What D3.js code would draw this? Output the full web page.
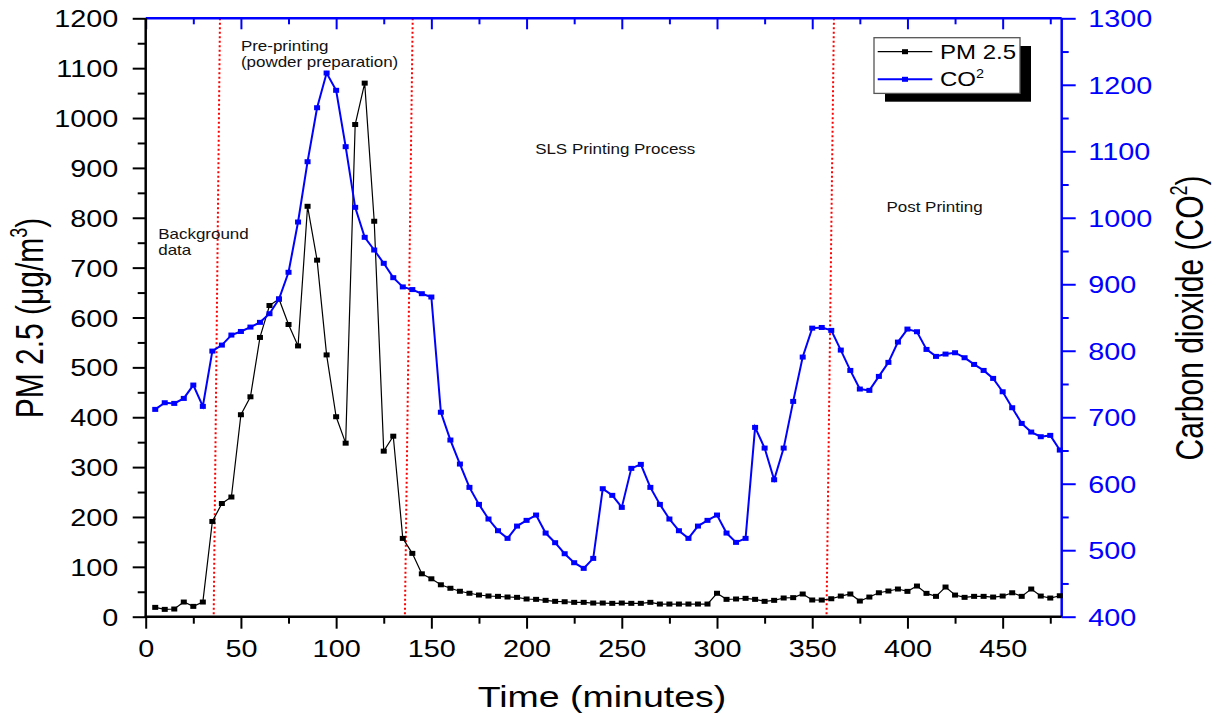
<!DOCTYPE html>
<html><head><meta charset="utf-8">
<script src="https://cdn.jsdelivr.net/npm/d3@7"></script>
<style>body{margin:0;background:#fff}svg{display:block}text{font-family:"Liberation Sans",Arial,sans-serif}</style>
</head><body>
<svg id="chart" width="1215" height="714"></svg>
<script>
const minutes = [5,10,15,20,25,30,35,40,45,50,55,60,65,70,75,80,85,90,95,100,105,110,115,120,125,130,135,140,145,150,155,160,165,170,175,180,185,190,195,200,205,210,215,220,225,230,235,240,245,250,255,260,265,270,275,280,285,290,295,300,305,310,315,320,325,330,335,340,345,350,355,360,365,370,375,380,385,390,395,400,405,410,415,420,425,430,435,440,445,450,455,460,465,470,475,480];
const pm25 = [18.7,14.7,15.4,29.4,20.7,29.4,191,227,240,405,441,560,624,637,586,543,823,715,525,401,348,987,1070,793,332,362,157,127,86,76,64,57,51,47,43.5,41.5,40.8,39.5,38.8,35.5,34.8,32.8,30.8,30,28.8,28.8,27.4,27.4,26.8,27.4,26.8,26.8,28.8,25.4,25.4,25.4,25.4,25.4,25.4,47,34.8,35.5,36.8,34.8,30.8,32.8,37.5,38.2,45.5,33.5,33.4,36,41.4,45.5,31.4,39.4,48,51.5,55.5,50.8,61.5,46.8,40.8,59.5,43.4,38.8,40.8,40.8,39.4,41.4,48,40.8,55.5,41.4,37.4,42];
const co2 = [711.8,721.8,720.8,728.3,748.4,716.3,799.5,808.5,823.6,829,835.6,842.7,855.7,877.8,918,993.6,1084.3,1165.5,1217.7,1191.7,1106.9,1015.7,970.6,951.5,931.5,909.9,896,892,885.8,880.8,707.5,665.7,629.6,594.5,568.9,546.9,529.3,517.8,536.3,544.9,552.9,525.8,511.3,494.7,481.2,472.7,487.7,592.5,582.5,564.4,623.1,629.1,594.5,568.9,546.9,529.3,517.8,536.3,544.9,552.9,525.8,511.8,517.8,684.7,653.6,606,653.6,723.8,790.5,834,835,830.6,801,770.4,742.4,740.4,761.4,782.5,813,832.6,828.6,802,791.5,795,797,789.5,779.4,770.4,758.4,738.3,714.3,690.7,677.7,670.7,672.7,650.6];
const xMajorTicks = [0,50,100,150,200,250,300,350,400,450];
const xMinorTicks = [25,75,125,175,225,275,325,375,425,475];
const yLeftMajor = [0,100,200,300,400,500,600,700,800,900,1000,1100,1200];
const yLeftMinor = [50,150,250,350,450,550,650,750,850,950,1050,1150];
const yRightMajor = [400,500,600,700,800,900,1000,1100,1200,1300];
const yRightMinor = [450,550,650,750,850,950,1050,1150,1250];
const phaseTop = [39, 140.2, 361.4];
const phaseBottom = [35.7, 136.1, 357.5];
const phaseLabels = [
  {lines:["Background","data"], x:6.6, y:[757,725]},
  {lines:["Pre-printing","(powder preparation)"], x:50, y:[1135,1103]},
  {lines:["SLS Printing Process"], x:204.5, y:[928]},
  {lines:["Post Printing"], x:389, y:[811]}
];

const svg = d3.select("#chart");
const L = 145.7, R = 1061.7, T = 18.3, B = 616.7;
const x = d3.scaleLinear().domain([0,481]).range([L,R]);
const yL = d3.scaleLinear().domain([0,1200]).range([B,T]);
const yR = d3.scaleLinear().domain([400,1300]).range([B,T]);
const blue = "#0000ff";
const SX = 1.2;
const fmt = d3.format("d");

function styleAxis(g, color){
  g.select(".domain").remove();
  g.selectAll("line").attr("stroke", color).attr("stroke-width", 2);
}

// red phase lines
svg.append("g").selectAll("line").data(phaseTop).join("line")
  .attr("x1", d=>x(d)).attr("y1", T)
  .attr("x2", (d,i)=>x(phaseBottom[i])).attr("y2", B)
  .attr("stroke", "#ff0000").attr("stroke-width", 2).attr("stroke-dasharray", "2,2.5");

// phase labels (positioned on left scale values)
phaseLabels.forEach(p=>{
  p.lines.forEach((t,i)=>{
    svg.append("text").attr("transform", `translate(${x(p.x)},${yL(p.y[i])}) scale(1.17,1)`)
      .attr("font-size", 14.5).attr("fill", "#111").text(t);
  });
});

// axes: bottom
const gB = svg.append("g").attr("transform", `translate(0,${B})`)
  .call(d3.axisBottom(x).tickValues(xMajorTicks).tickSize(12).tickSizeOuter(0).tickFormat(fmt));
styleAxis(gB, "#000");
gB.selectAll("text").attr("y", null).attr("dy", null)
  .attr("transform", `translate(0,40) scale(${SX},1)`).attr("font-size", 24).attr("fill", "#000")
  .style("font-family", '"Liberation Sans",Arial,sans-serif');
const gBm = svg.append("g").attr("transform", `translate(0,${B})`)
  .call(d3.axisBottom(x).tickValues(xMinorTicks).tickSize(7).tickFormat(()=>""));
styleAxis(gBm, "#000");

// top (blue, inward ticks)
const gT = svg.append("g").attr("transform", `translate(0,${T})`)
  .call(d3.axisBottom(x).tickValues(xMajorTicks).tickSize(11).tickFormat(()=>""));
styleAxis(gT, blue);
const gTm = svg.append("g").attr("transform", `translate(0,${T})`)
  .call(d3.axisBottom(x).tickValues(xMinorTicks).tickSize(6).tickFormat(()=>""));
styleAxis(gTm, blue);

// left
const gL = svg.append("g").attr("transform", `translate(${L},0)`)
  .call(d3.axisLeft(yL).tickValues(yLeftMajor).tickSize(13).tickSizeOuter(0).tickFormat(fmt));
styleAxis(gL, "#000");
gL.selectAll("text").attr("x", null).attr("dy", null)
  .attr("transform", `translate(-27.4,8.6) scale(${SX},1)`).attr("font-size", 24).attr("fill", "#000")
  .style("font-family", '"Liberation Sans",Arial,sans-serif');
const gLm = svg.append("g").attr("transform", `translate(${L},0)`)
  .call(d3.axisLeft(yL).tickValues(yLeftMinor).tickSize(8).tickFormat(()=>""));
styleAxis(gLm, "#000");

// right
const gR = svg.append("g").attr("transform", `translate(${R},0)`)
  .call(d3.axisRight(yR).tickValues(yRightMajor).tickSize(14).tickSizeOuter(0).tickFormat(fmt));
styleAxis(gR, blue);
gR.selectAll("text").attr("x", null).attr("dy", null)
  .attr("transform", `translate(26.6,8.6) scale(${SX},1)`).attr("font-size", 24).attr("fill", blue)
  .style("font-family", '"Liberation Sans",Arial,sans-serif');
const gRm = svg.append("g").attr("transform", `translate(${R},0)`)
  .call(d3.axisRight(yR).tickValues(yRightMinor).tickSize(7).tickFormat(()=>""));
styleAxis(gRm, blue);

// frame lines
svg.append("line").attr("x1", L).attr("x2", R).attr("y1", T).attr("y2", T).attr("stroke", blue).attr("stroke-width", 2.5);
svg.append("line").attr("x1", R).attr("x2", R).attr("y1", T).attr("y2", B).attr("stroke", blue).attr("stroke-width", 2.5);
svg.append("line").attr("x1", L).attr("x2", L).attr("y1", T).attr("y2", B+1).attr("stroke", "#000").attr("stroke-width", 2.5);
svg.append("line").attr("x1", L-1).attr("x2", R).attr("y1", B).attr("y2", B).attr("stroke", "#000").attr("stroke-width", 2.5);

// PM 2.5 series
const pmData = minutes.map((m,i)=>({m, v:pm25[i]}));
const coData = minutes.map((m,i)=>({m, v:co2[i]}));
svg.append("path").datum(pmData)
  .attr("d", d3.line().x(d=>x(d.m)).y(d=>yL(d.v)))
  .attr("fill", "none").attr("stroke", "#000").attr("stroke-width", 1.2);
svg.append("g").selectAll("rect").data(pmData).join("rect")
  .attr("x", d=>x(d.m)-3).attr("y", d=>yL(d.v)-2.5).attr("width", 6).attr("height", 5).attr("fill", "#000");

// CO2 series
svg.append("path").datum(coData)
  .attr("d", d3.line().x(d=>x(d.m)).y(d=>yR(d.v)))
  .attr("fill", "none").attr("stroke", blue).attr("stroke-width", 2);
svg.append("g").selectAll("rect").data(coData).join("rect")
  .attr("x", d=>x(d.m)-3).attr("y", d=>yR(d.v)-2.5).attr("width", 6).attr("height", 5).attr("fill", blue);

// axis titles
svg.append("text").attr("transform", `translate(602,706.7) scale(1.25,1)`)
  .attr("text-anchor", "middle").attr("font-size", 30).attr("fill", "#000").text("Time (minutes)");

const lt = svg.append("text").attr("transform", `translate(43,318) scale(1.3,1) rotate(-90)`)
  .attr("text-anchor", "middle").attr("font-size", 30).attr("fill", "#000");
lt.append("tspan").text("PM 2.5 (μg/m");
lt.append("tspan").attr("font-size", 18).attr("dy", -12).text("3");
lt.append("tspan").attr("dy", 12).text(")");

const rt = svg.append("text").attr("transform", `translate(1203,318) scale(1.3,1) rotate(-90)`)
  .attr("text-anchor", "middle").attr("font-size", 30).attr("fill", "#000");
rt.append("tspan").text("Carbon dioxide (CO");
rt.append("tspan").attr("font-size", 18).attr("dy", -12).text("2");
rt.append("tspan").attr("dy", 12).text(")");

// legend
const lg = svg.append("g");
lg.append("rect").attr("x", 885).attr("y", 46).attr("width", 146).attr("height", 55.7).attr("fill", "#000");
lg.append("rect").attr("x", 874).attr("y", 37.7).attr("width", 146).attr("height", 55.7)
  .attr("fill", "#fff").attr("stroke", "#555").attr("stroke-width", 1.3);
const legItems = [{name:"PM 2.5", color:"#000", y:51.7, w:1.2},{name:"CO", sup:"2", color:blue, y:79.3, w:2}];
legItems.forEach(it=>{
  lg.append("line").attr("x1", 877.7).attr("x2", 932.3).attr("y1", it.y).attr("y2", it.y)
    .attr("stroke", it.color).attr("stroke-width", it.w);
  lg.append("rect").attr("x", 902).attr("y", it.y-2.5).attr("width", 6).attr("height", 5).attr("fill", it.color);
  const t = lg.append("text").attr("transform", `translate(940,${it.y+7}) scale(1.2,1)`)
    .attr("font-size", 20).attr("fill", "#000").text(it.name);
  if (it.sup) t.append("tspan").attr("font-size", 12).attr("dy", -8).text(it.sup);
});
</script>
</body></html>
